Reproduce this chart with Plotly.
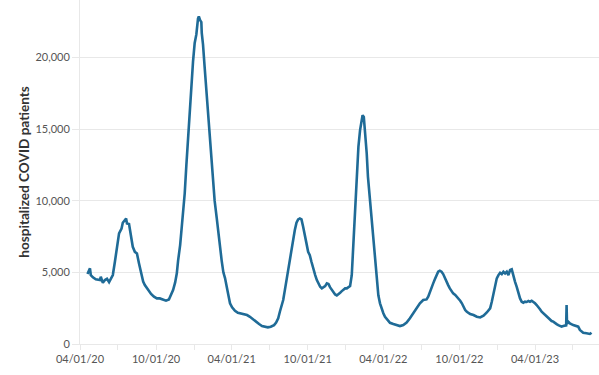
import plotly.graph_objects as go

dates = [
    "2020-04-19", "2020-04-25", "2020-04-27", "2020-05-02", "2020-05-09", "2020-05-19", "2020-05-21",
    "2020-05-26", "2020-05-31", "2020-06-05", "2020-06-10", "2020-06-14", "2020-06-19", "2020-06-24",
    "2020-06-29", "2020-07-04", "2020-07-10", "2020-07-13", "2020-07-21", "2020-07-23", "2020-07-28",
    "2020-08-01", "2020-08-06", "2020-08-11", "2020-08-16", "2020-08-21", "2020-08-26", "2020-08-31",
    "2020-09-04", "2020-09-09", "2020-09-14", "2020-09-19", "2020-09-26", "2020-10-03", "2020-10-10",
    "2020-10-18", "2020-10-25", "2020-11-01", "2020-11-08", "2020-11-11", "2020-11-16", "2020-11-20",
    "2020-11-23", "2020-11-28", "2020-12-02", "2020-12-07", "2020-12-09", "2020-12-13", "2020-12-17",
    "2020-12-21", "2020-12-25", "2020-12-29", "2021-01-02", "2021-01-06", "2021-01-10", "2021-01-12",
    "2021-01-15", "2021-01-18", "2021-01-19", "2021-01-22", "2021-01-26", "2021-01-30", "2021-02-03",
    "2021-02-07", "2021-02-11", "2021-02-15", "2021-02-19", "2021-02-24", "2021-02-28", "2021-03-04",
    "2021-03-08", "2021-03-12", "2021-03-16", "2021-03-24", "2021-03-28", "2021-04-02", "2021-04-09",
    "2021-04-16", "2021-04-23", "2021-04-30", "2021-05-08", "2021-05-15", "2021-05-22", "2021-05-29",
    "2021-06-06", "2021-06-13", "2021-06-20", "2021-06-27", "2021-07-04", "2021-07-12", "2021-07-17",
    "2021-07-22", "2021-07-26", "2021-07-31", "2021-08-03", "2021-08-07", "2021-08-11", "2021-08-15",
    "2021-08-19", "2021-08-23", "2021-08-27", "2021-08-31", "2021-09-04", "2021-09-08", "2021-09-12",
    "2021-09-16", "2021-09-20", "2021-09-24", "2021-09-28", "2021-10-02", "2021-10-06", "2021-10-10",
    "2021-10-14", "2021-10-19", "2021-10-23", "2021-10-27", "2021-10-31", "2021-11-04", "2021-11-08",
    "2021-11-12", "2021-11-16", "2021-11-20", "2021-11-24", "2021-11-28", "2021-12-02", "2021-12-06",
    "2021-12-10", "2021-12-14", "2021-12-18", "2021-12-22", "2021-12-26", "2021-12-30", "2022-01-03",
    "2022-01-07", "2022-01-11", "2022-01-15", "2022-01-19", "2022-01-23", "2022-01-27", "2022-01-31",
    "2022-02-04", "2022-02-08", "2022-02-10", "2022-02-13", "2022-02-15", "2022-02-20", "2022-02-23",
    "2022-02-28", "2022-03-04", "2022-03-08", "2022-03-12", "2022-03-16", "2022-03-20", "2022-03-24",
    "2022-03-28", "2022-04-01", "2022-04-05", "2022-04-09", "2022-04-13", "2022-04-17", "2022-04-25",
    "2022-05-03", "2022-05-11", "2022-05-19", "2022-05-27", "2022-06-04", "2022-06-12", "2022-06-20",
    "2022-06-28", "2022-07-06", "2022-07-14", "2022-07-18", "2022-07-22", "2022-07-26", "2022-07-30",
    "2022-08-03", "2022-08-07", "2022-08-11", "2022-08-15", "2022-08-19", "2022-08-23", "2022-08-27",
    "2022-09-01", "2022-09-04", "2022-09-08", "2022-09-13", "2022-09-16", "2022-09-21", "2022-09-25",
    "2022-09-29", "2022-10-03", "2022-10-07", "2022-10-11", "2022-10-15", "2022-10-19", "2022-10-23",
    "2022-10-27", "2022-11-04", "2022-11-12", "2022-11-20", "2022-11-28", "2022-12-06", "2022-12-14",
    "2022-12-18", "2022-12-22", "2022-12-26", "2022-12-30", "2023-01-03", "2023-01-07", "2023-01-11",
    "2023-01-15", "2023-01-19", "2023-01-23", "2023-01-27", "2023-01-31", "2023-02-04", "2023-02-08",
    "2023-02-12", "2023-02-16", "2023-02-20", "2023-02-24", "2023-02-28", "2023-03-04", "2023-03-08",
    "2023-03-12", "2023-03-16", "2023-03-20", "2023-03-24", "2023-03-28", "2023-04-01", "2023-04-05",
    "2023-04-09", "2023-04-13", "2023-04-17", "2023-04-21", "2023-04-25", "2023-04-29", "2023-05-03",
    "2023-05-07", "2023-05-11", "2023-05-15", "2023-05-19", "2023-05-23", "2023-05-27", "2023-05-31",
    "2023-06-04", "2023-06-08", "2023-06-13", "2023-06-15", "2023-06-16", "2023-06-17", "2023-06-20",
    "2023-06-24", "2023-07-02", "2023-07-10", "2023-07-14", "2023-07-18", "2023-07-26", "2023-08-03",
    "2023-08-11", "2023-08-15",
]

patients = [
    4880, 5280, 4810, 4650, 4510, 4460, 4690,
    4270, 4460, 4550, 4320, 4550, 4810, 5740,
    6780, 7720, 8060, 8460, 8760, 8410, 8370,
    7720, 6780, 6430, 6320, 5620, 4930, 4350,
    4110, 3880, 3720, 3490, 3300, 3180, 3180,
    3070, 3020, 3100, 3500, 3760, 4300, 4930,
    5800, 6900, 8200, 9700, 10500, 12500, 14500,
    16600, 18300, 19700, 21000, 21600, 22700, 22860,
    22600, 22450, 21700, 20900, 19300, 17700, 16200,
    15000, 13300, 11700, 10000, 8800, 7700, 6700,
    5800, 5000, 4600, 3420, 2840, 2560, 2320,
    2180, 2140, 2090, 2020, 1900, 1720, 1560,
    1390, 1250, 1210, 1160, 1210, 1320, 1490,
    1790, 2250, 2700, 3070, 3760, 4460, 5390,
    6090, 6780, 7250, 7950, 8460, 8690, 8760,
    8690, 8180, 7480, 7020, 6430, 6200, 5740,
    5280, 4810, 4460, 4230, 3990, 3880, 3950,
    4040, 4230, 4180, 3950, 3760, 3650, 3460,
    3390, 3460, 3580, 3690, 3810, 3880, 3880,
    3950, 4050, 4800, 7020, 9200, 11660, 13750,
    14920, 15840, 15960, 15840, 15150, 13290, 11660,
    10040, 8640, 7250, 5900, 4460, 3400, 2840,
    2450, 2150, 1900, 1750, 1600, 1480, 1390,
    1320, 1250, 1320, 1490, 1790, 2140, 2490,
    2840, 3070, 3110, 3300, 3650, 3880, 4230,
    4510, 4810, 5040, 5110, 5040, 4880, 4580,
    4340, 4110, 3880, 3650, 3530, 3420, 3300,
    3110, 3020, 2840, 2560, 2370, 2250, 2140,
    2090, 2020, 1900, 1850, 1980, 2200, 2490,
    2950, 3530, 4230, 4580, 4810, 4970, 4880,
    5040, 4930, 5040, 4810, 5160, 5210, 4690,
    4340, 3990, 3530, 3180, 2950, 2880, 2950,
    2930, 3000, 2950, 3020, 2950, 2840, 2720,
    2600, 2420, 2250, 2140, 2020, 1900, 1790,
    1670, 1600, 1560, 1440, 1390, 1320, 1250,
    1210, 1250, 1300, 1300, 2720, 1400, 1560,
    1440, 1320, 1250, 1210, 980, 790, 750,
    700, 790,
]

tick_dates = [
    "2020-04-01", "2020-07-01", "2020-10-01", "2021-01-01", "2021-04-01", "2021-07-01",
    "2021-10-01", "2022-01-01", "2022-04-01", "2022-07-01", "2022-10-01", "2023-01-01",
    "2023-04-01", "2023-07-01",
]
tick_labels = [
    "04/01/20", "", "10/01/20", "", "04/01/21", "", "10/01/21", "", "04/01/22", "",
    "10/01/22", "", "04/01/23", "",
]
y_ticks = [0, 5000, 10000, 15000, 20000]
y_title = "hospitalized COVID patients"

fig = go.Figure()
fig.add_trace(go.Scatter(
    x=dates, y=patients, mode="lines",
    line=dict(color="#1f6b97", width=2.6),
    hoverinfo="skip",
))

grid = "#e8e8e8"
fig.update_layout(
    width=599, height=375,
    margin=dict(l=80, r=0, t=0, b=31, autoexpand=False),
    paper_bgcolor="white", plot_bgcolor="white",
    showlegend=False,
    font=dict(family="Lato, 'Source Sans Pro', sans-serif", size=11, color="#555555"),
    xaxis=dict(
        type="date", automargin=False,
        range=["2020-04-01", "2023-09-02"],
        tickmode="array", tickvals=tick_dates, ticktext=tick_labels,
        showgrid=False, zeroline=False,
        showline=True, linecolor=grid, linewidth=1,
        ticks="outside", ticklen=5, tickcolor=grid, tickwidth=1,
        tickfont=dict(size=11, color="#555555"),
    ),
    yaxis=dict(
        range=[0, 24000], automargin=False,
        tickmode="array", tickvals=y_ticks,
        tickformat=",d",
        showgrid=True, gridcolor=grid, gridwidth=1,
        zeroline=False,
        showline=True, linecolor=grid, linewidth=1,
        ticks="outside", ticklen=7, tickcolor=grid, tickwidth=1,
        tickfont=dict(size=11, color="#555555"),
        title=dict(text=y_title, standoff=2,
                   font=dict(family="Lato, sans-serif", size=13.6, color="#333333", weight="bold")),
    ),
)

fig.write_html("out.html", config={"displayModeBar": False},
               post_script="document.body.style.margin='0';")
